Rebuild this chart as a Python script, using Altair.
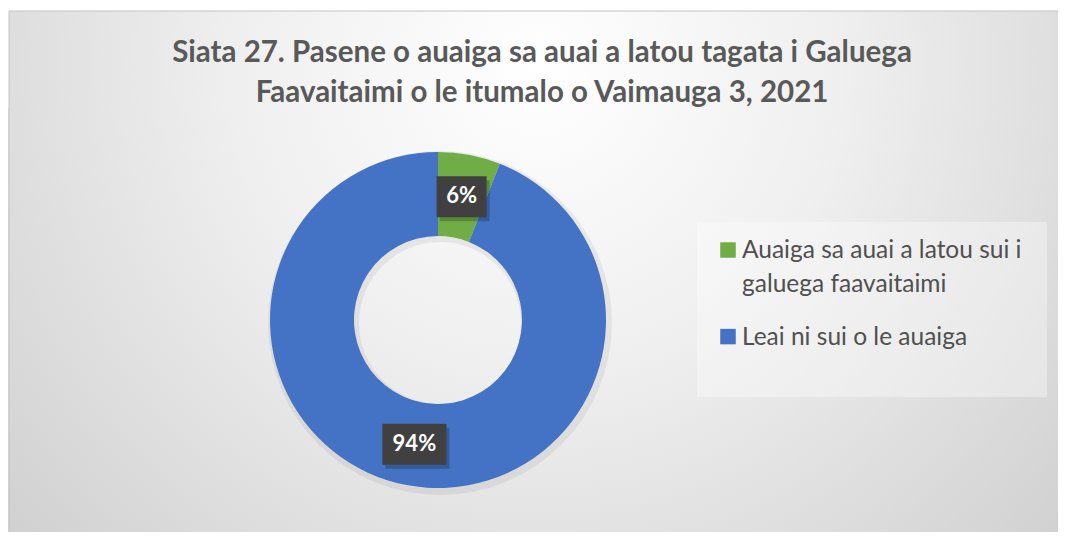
import textwrap
import altair as alt
import pandas as pd

# ---- data ----
categories = [
    "Auaiga sa auai a latou sui i galuega faavaitaimi",
    "Leai ni sui o le auaiga",
]
values = [6, 94]
colors = ["#70AD47", "#4472C4"]
title_lines = [
    "Siata 27. Pasene o auaiga sa auai a latou tagata i Galuega",
    "Faavaitaimi o le itumalo o Vaimauga 3, 2021",
]

FONT = "Lato"
CX, CY = 430, 212          # donut centre inside the view
R_OUT, R_IN = 168, 84
R_LAB = (R_OUT + R_IN) / 2

df = pd.DataFrame({
    "category": categories,
    "value": values,
    "order": list(range(len(categories))),
    "legend_text": [textwrap.fill(c, 28) for c in categories],
})

color_scale = alt.Scale(domain=categories, range=colors)
one = pd.DataFrame({"a": [0]})

# ---- background frame with radial gradient ----
bg = alt.Chart(one).mark_rect(
    color=alt.RadialGradient(
        gradient="radial",
        stops=[
            alt.GradientStop(color="#ffffff", offset=0),
            alt.GradientStop(color="#efefef", offset=0.4),
            alt.GradientStop(color="#cccccc", offset=1),
        ],
        x1=0.5, y1=0.3, r1=0, x2=0.5, y2=0.3, r2=0.72,
    ),
    stroke="#c4c4c4",
    strokeWidth=1,
).encode(x=alt.value(1), x2=alt.value(1060), y=alt.value(-97), y2=alt.value(440))

# ---- title ----
title = alt.Chart(pd.DataFrame({"t": ["\n".join(title_lines)]})).mark_text(
    font=FONT, fontSize=29.5, fontWeight="bold", color="#595959",
    align="center", baseline="alphabetic", lineBreak="\n", lineHeight=40,
).encode(x=alt.value(534), y=alt.value(-46), text="t:N")

# ---- legend box ----
legend_box = alt.Chart(one).mark_rect(color="#ffffff", opacity=0.35).encode(
    x=alt.value(689), x2=alt.value(1039), y=alt.value(114), y2=alt.value(289)
)

# ---- donut shadow ----
shadow = alt.Chart(one).mark_arc(
    outerRadius=R_OUT + 4, innerRadius=R_IN - 3, color="#000000", opacity=0.06
).encode(theta=alt.value(6.2832), x=alt.value(CX + 2), y=alt.value(CY + 3))

# ---- donut ----
donut = alt.Chart(df).mark_arc(outerRadius=R_OUT, innerRadius=R_IN).encode(
    theta=alt.Theta("value:Q", stack=True),
    color=alt.Color("category:N", scale=color_scale, legend=None),
    order=alt.Order("order:Q"),
    x=alt.value(CX),
    y=alt.value(CY),
)

# ---- data labels (positions derived from the values) ----
labels_base = alt.Chart(df).transform_joinaggregate(
    total="sum(value)"
).transform_window(
    cum="sum(value)", sort=[alt.SortField("order")], frame=[None, 0]
).transform_calculate(
    mid="(datum.cum - datum.value / 2) / datum.total * 2 * PI",
    px=f"{CX} + {R_LAB} * sin(datum.mid)",
    py=f"{CY} - {R_LAB} * cos(datum.mid)",
    label="format(datum.value / datum.total, '.0%')",
    w="14 * length(datum.label) + 22",
    x1="datum.px - datum.w / 2",
    x2="datum.px + datum.w / 2",
    y1="datum.py - 20",
    y2="datum.py + 21",
    sx1="datum.x1 + 3", sx2="datum.x2 + 3", sy1="datum.y1 + 4", sy2="datum.y2 + 4",
)

box_shadow = labels_base.mark_rect(color="#000000", opacity=0.22).encode(
    x=alt.X("sx1:Q", scale=None), x2="sx2:Q",
    y=alt.Y("sy1:Q", scale=None), y2="sy2:Q",
)
boxes = labels_base.mark_rect(color="#404040").encode(
    x=alt.X("x1:Q", scale=None), x2="x2:Q",
    y=alt.Y("y1:Q", scale=None), y2="y2:Q",
)
texts = labels_base.mark_text(
    font=FONT, fontSize=22, fontWeight="bold", color="#ffffff", baseline="middle", align="center"
).encode(
    x=alt.X("px:Q", scale=None),
    y=alt.Y("py:Q", scale=None),
    text="label:N",
)

# ---- legend ----
leg_base = alt.Chart(df).transform_calculate(
    ly="150 + datum.order * 86.6",
    sy="datum.ly - 8",
)
leg_sym = leg_base.mark_square(size=240, opacity=1).encode(
    x=alt.value(720),
    y=alt.Y("sy:Q", scale=None),
    color=alt.Color("category:N", scale=color_scale, legend=None),
)
leg_txt = leg_base.mark_text(
    font=FONT, fontSize=24.5, color="#505050", align="left", baseline="alphabetic",
    lineBreak="\n", lineHeight=34,
).encode(
    x=alt.value(734),
    y=alt.Y("ly:Q", scale=None),
    text="legend_text:N",
)

chart = alt.layer(
    bg, title, legend_box, shadow, donut, box_shadow, boxes, texts, leg_sym, leg_txt
).properties(
    width=1050,
    height=424,
    padding={"left": 0, "top": 100, "right": 0, "bottom": 0},
    autosize=alt.AutoSizeParams(type="none"),
).configure_view(stroke=None).configure(background="#ffffff")

chart.save("out.html", embed_options={"renderer": "svg", "actions": False})
